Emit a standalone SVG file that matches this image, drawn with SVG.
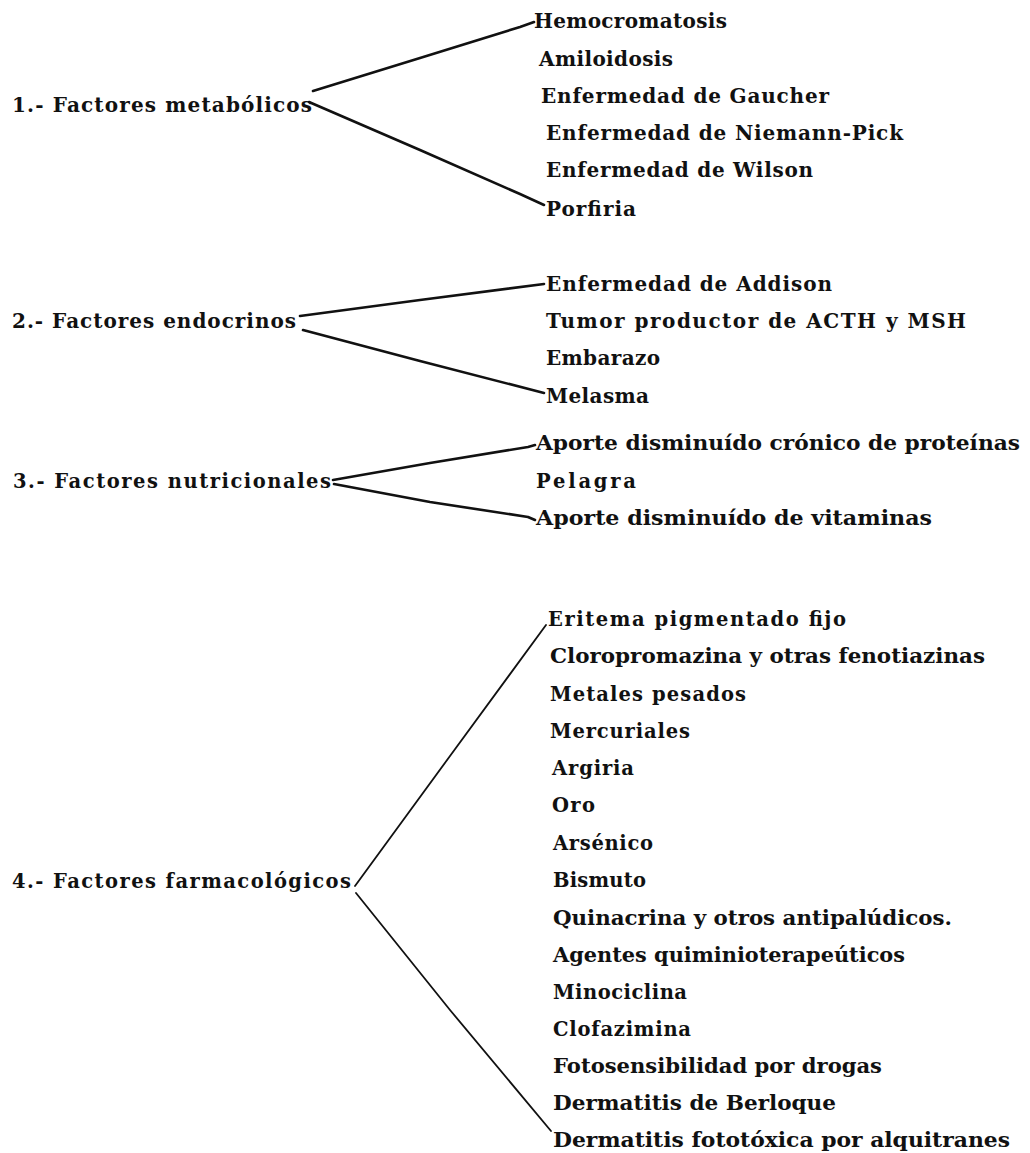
<svg xmlns="http://www.w3.org/2000/svg" width="1030" height="1153" viewBox="0 0 1030 1153">
<style>
text{font-family:"DejaVu Serif","Liberation Serif",serif;font-size:20px;font-weight:bold;fill:#111}
.n{font-size:19.5px}
.c{fill:none;stroke:#111;stroke-width:2.6;stroke-linecap:round;stroke-linejoin:round}
.t{stroke-width:1.8}
</style>
<rect width="1030" height="1153" fill="#fff"/>
<g id="connectors">
<polyline class="c" points="313,91 420,58 520,27 534,22"/>
<polyline class="c" points="309,102 420,150 520,194 544,205"/>
<polyline class="c" points="300,316 420,300 544,284"/>
<polyline class="c" points="303,330 420,361 544,393"/>
<polyline class="c" points="333,480 430,463 528,447 535,445"/>
<polyline class="c" points="334,484 430,502 528,517 535,520"/>
<polyline class="c t" points="355,886 450,756 546,625"/>
<polyline class="c t" points="356,893 450,1010 551,1131"/>
</g>
<g id="cat1"><text x="12" y="112" textLength="300" lengthAdjust="spacing">1.- Factores metabólicos</text></g>
<g id="m1"><text x="534" y="28" textLength="193" lengthAdjust="spacing">Hemocromatosis</text></g>
<g id="m2"><text x="539" y="66" textLength="134" lengthAdjust="spacing">Amiloidosis</text></g>
<g id="m3"><text x="541" y="103" textLength="288" lengthAdjust="spacing">Enfermedad de Gaucher</text></g>
<g id="m4"><text x="546" y="140" textLength="357" lengthAdjust="spacing">Enfermedad de Niemann-Pick</text></g>
<g id="m5"><text x="546" y="177" textLength="267" lengthAdjust="spacing">Enfermedad de Wilson</text></g>
<g id="m6"><text x="546" y="216" textLength="90" lengthAdjust="spacing">Porfiria</text></g>
<g id="cat2"><text x="12" y="328" textLength="284" lengthAdjust="spacing">2.- Factores endocrinos</text></g>
<g id="e1"><text x="546" y="291" textLength="286" lengthAdjust="spacing">Enfermedad de Addison</text></g>
<g id="e2"><text x="546" y="328" textLength="420" lengthAdjust="spacing">Tumor productor de ACTH y MSH</text></g>
<g id="e3"><text x="546" y="365" textLength="114" lengthAdjust="spacing">Embarazo</text></g>
<g id="e4"><text x="546" y="403" textLength="103" lengthAdjust="spacing">Melasma</text></g>
<g id="cat3"><text class="n" x="13" y="488" textLength="318" lengthAdjust="spacing">3.- Factores nutricionales</text></g>
<g id="n1"><text class="n" x="536" y="450" textLength="484" lengthAdjust="spacingAndGlyphs">Aporte disminuído crónico de proteínas</text></g>
<g id="n2"><text class="n" x="536" y="488" textLength="100" lengthAdjust="spacing">Pelagra</text></g>
<g id="n3"><text class="n" x="536" y="525" textLength="396" lengthAdjust="spacingAndGlyphs">Aporte disminuído de vitaminas</text></g>
<g id="cat4"><text class="n" x="12" y="888" textLength="339" lengthAdjust="spacing">4.- Factores farmacológicos</text></g>
<g id="f1"><text class="n" x="548" y="626" textLength="298" lengthAdjust="spacing">Eritema pigmentado fijo</text></g>
<g id="f2"><text class="n" x="550" y="663" textLength="435" lengthAdjust="spacingAndGlyphs">Cloropromazina y otras fenotiazinas</text></g>
<g id="f3"><text class="n" x="550" y="701" textLength="196" lengthAdjust="spacing">Metales pesados</text></g>
<g id="f4"><text class="n" x="550" y="738" textLength="140" lengthAdjust="spacing">Mercuriales</text></g>
<g id="f5"><text class="n" x="552" y="775" textLength="82" lengthAdjust="spacing">Argiria</text></g>
<g id="f6"><text class="n" x="552" y="812" textLength="43" lengthAdjust="spacing">Oro</text></g>
<g id="f7"><text class="n" x="553" y="850" textLength="100" lengthAdjust="spacing">Arsénico</text></g>
<g id="f8"><text class="n" x="553" y="887" textLength="93" lengthAdjust="spacing">Bismuto</text></g>
<g id="f9"><text class="n" x="553" y="925" textLength="399" lengthAdjust="spacingAndGlyphs">Quinacrina y otros antipalúdicos.</text></g>
<g id="f10"><text class="n" x="553" y="962" textLength="352" lengthAdjust="spacingAndGlyphs">Agentes quiminioterapeúticos</text></g>
<g id="f11"><text class="n" x="553" y="999" textLength="134" lengthAdjust="spacing">Minociclina</text></g>
<g id="f12"><text class="n" x="553" y="1036" textLength="138" lengthAdjust="spacing">Clofazimina</text></g>
<g id="f13"><text class="n" x="553" y="1073" textLength="329" lengthAdjust="spacingAndGlyphs">Fotosensibilidad por drogas</text></g>
<g id="f14"><text class="n" x="553" y="1110" textLength="283" lengthAdjust="spacingAndGlyphs">Dermatitis de Berloque</text></g>
<g id="f15"><text class="n" x="553" y="1147" textLength="457" lengthAdjust="spacingAndGlyphs">Dermatitis fototóxica por alquitranes</text></g>
</svg>
